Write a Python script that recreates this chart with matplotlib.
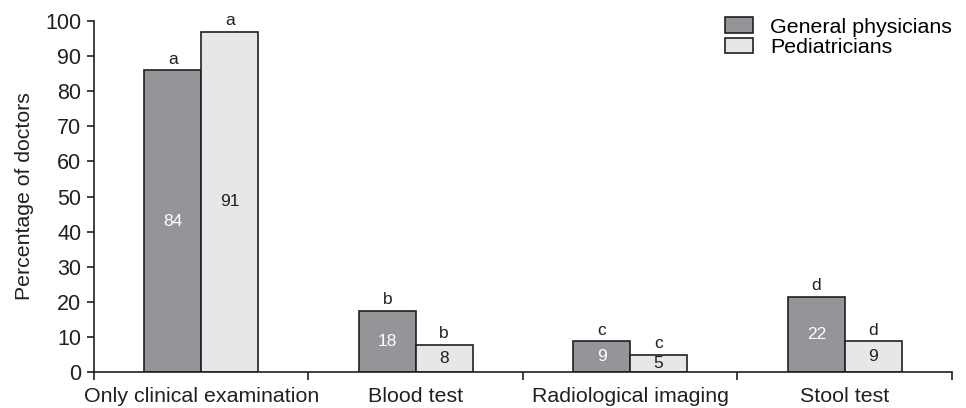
import numpy as np
import matplotlib
matplotlib.use('Agg')
import matplotlib.pyplot as plt

plt.rcParams['font.family'] = ['Liberation Sans', 'DejaVu Sans']

categories = ['Only clinical examination', 'Blood test', 'Radiological imaging', 'Stool test']
general = [86, 17.5, 8.7, 21.4]
pediatric = [97, 7.7, 4.9, 8.7]
general_labels = ['84', '18', '9', '22']
pediatric_labels = ['91', '8', '5', '9']
general_letters = ['a', 'b', 'c', 'd']
pediatric_letters = ['a', 'b', 'c', 'd']

fig = plt.figure(figsize=(9.66, 4.08), dpi=100)
ax = fig.add_axes([0.0973, 0.0882, 0.8882, 0.8603])

x = np.arange(len(categories)) + 0.5
w = 0.265
edge = '#231f20'
b1 = ax.bar(x - w / 2, general, w, color='#939598', edgecolor=edge, linewidth=1.2,
            label='General physicians')
b2 = ax.bar(x + w / 2, pediatric, w, color='#e6e7e8', edgecolor=edge, linewidth=1.2,
            label='Pediatricians')

for i in range(len(categories)):
    ax.text(x[i] - w / 2, general[i] / 2, general_labels[i], color='white',
            ha='center', va='center', fontsize=12.5)
    ax.text(x[i] + w / 2, pediatric[i] / 2, pediatric_labels[i], color='#231f20',
            ha='center', va='center', fontsize=12.5)
    ax.text(x[i] - w / 2, general[i] + 1.0, general_letters[i], color='#231f20',
            ha='center', va='bottom', fontsize=12.5)
    ax.text(x[i] + w / 2, pediatric[i] + 1.0, pediatric_letters[i], color='#231f20',
            ha='center', va='bottom', fontsize=12.5)

ax.set_xlim(0, 4)
ax.set_ylim(0, 100)
ax.set_yticks(range(0, 101, 10))
ax.set_xticks(range(0, 5))
ax.set_xticklabels([])
ax.set_xticks(x, minor=True)
ax.set_xticklabels(categories, minor=True, fontsize=15.4, color='#231f20')
ax.tick_params(axis='x', which='minor', length=0, pad=11)
ax.tick_params(axis='x', which='major', length=6, width=1.2, color=edge)
ax.tick_params(axis='y', length=5, width=1.2, color=edge, labelsize=15.5,
               labelcolor='#231f20', pad=4)
ax.set_ylabel('Percentage of doctors', fontsize=15.3, color='#231f20', labelpad=8)

for s in ['top', 'right']:
    ax.spines[s].set_visible(False)
for s in ['left', 'bottom']:
    ax.spines[s].set_linewidth(1.2)
    ax.spines[s].set_color(edge)

leg = ax.legend(loc='upper right', bbox_to_anchor=(1.01, 1.035), frameon=False,
                fontsize=15.4, handlelength=1.3, handleheight=0.75,
                handletextpad=0.8, labelspacing=0.05, borderaxespad=0)

fig.savefig('out.png', dpi=100)
